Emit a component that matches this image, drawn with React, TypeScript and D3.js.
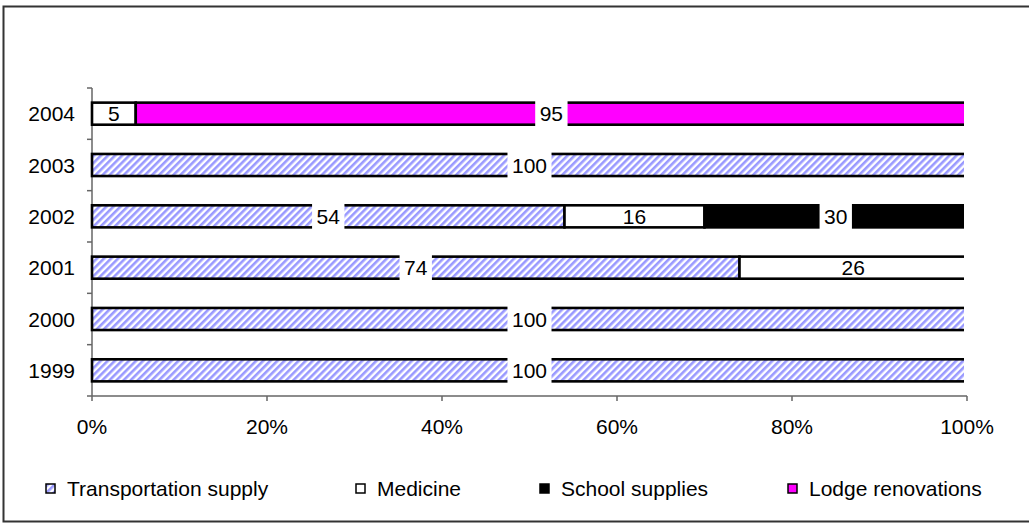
import React from 'react';
import * as d3 from 'd3';

const years = ['1999', '2000', '2001', '2002', '2003', '2004'];
const seriesNames = ['Transportation supply', 'Medicine', 'School supplies', 'Lodge renovations'];
const transport = [100, 100, 74, 54, 100, 0];
const medicine = [0, 0, 26, 16, 0, 5];
const school = [0, 0, 0, 30, 0, 0];
const lodge = [0, 0, 0, 0, 0, 95];
const xTicks = [0, 0.2, 0.4, 0.6, 0.8, 1];

const W = 1029;
const H = 525;
const FONT = '"Liberation Sans", Arial, sans-serif';
const FS = 21;

const fills = ['url(#hatch)', '#ffffff', '#000000', '#ff00ff'];

export default function App() {
  const rows = years.map((y, i) => ({
    year: y,
    s0: transport[i],
    s1: medicine[i],
    s2: school[i],
    s3: lodge[i],
  }));
  const keys = ['s0', 's1', 's2', 's3'];
  const stack = d3.stack<any>().keys(keys);
  const stacked = stack(rows);

  const x = d3.scaleLinear().domain([0, 1]).range([92, 967]);
  const y = d3
    .scaleBand<string>()
    .domain([...years].reverse())
    .range([88, 396])
    .paddingInner(0.57)
    .paddingOuter(0.285);
  const step = y.step();
  const bw = y.bandwidth();
  const clipRight = x(1) - 3;

  const charW = FS * 0.556;

  const legendX = [46, 356, 540, 788];

  return (
    <svg width={W} height={H} style={{ position: 'absolute', left: 0, top: 0 }} fontFamily={FONT}>
      <defs>
        <pattern id="hatch" patternUnits="userSpaceOnUse" width="5" height="5" patternTransform="rotate(45)">
          <rect x="0" y="0" width="5" height="5" fill="#ffffff" />
          <rect x="0" y="0" width="2.6" height="5" fill="#9999ff" />
        </pattern>
        <clipPath id="plotclip">
          <rect x={x(0) - 2} y={80} width={clipRight - x(0) + 2} height={330} />
        </clipPath>
      </defs>
      <rect x={0} y={0} width={W} height={H} fill="#ffffff" />
      <rect x={3.5} y={6.5} width={1040} height={515} fill="none" stroke="#333" strokeWidth={2} />

      {/* y axis */}
      <line x1={x(0)} x2={x(0)} y1={88} y2={396} stroke="#666" strokeWidth={1.5} />
      {d3.range(years.length + 1).map((k) => {
        const ty = 88 + k * step;
        return <line key={`yt${k}`} x1={x(0) - 5} x2={x(0)} y1={ty} y2={ty} stroke="#666" strokeWidth={1.5} />;
      })}

      {/* bars */}
      <g clipPath="url(#plotclip)">
        {stacked.map((layer, li) =>
          layer.map((d, i) => {
            const v = (d[1] - d[0]) / 100;
            if (v <= 0) return null;
            const x0 = x(d[0] / 100);
            const x1 = x(d[1] / 100);
            const yy = y(rows[i].year)!;
            return (
              <rect
                key={`${li}-${i}`}
                x={x0}
                y={yy}
                width={x1 - x0}
                height={bw}
                fill={fills[li]}
                stroke="#000"
                strokeWidth={2.6}
              />
            );
          })
        )}
      </g>

      {/* data labels */}
      {stacked.map((layer, li) =>
        layer.map((d, i) => {
          const val = d[1] - d[0];
          if (val <= 0) return null;
          const cx = x((d[0] + d[1]) / 200);
          const cy = y(rows[i].year)! + bw / 2;
          const txt = String(val);
          const tw = txt.length * charW + 9;
          const boxed = li !== 1;
          return (
            <g key={`l-${li}-${i}`}>
              {boxed && (
                <rect x={cx - tw / 2} y={cy - bw / 2 - 2} width={tw} height={bw + 4} fill="#ffffff" />
              )}
              <text x={cx} y={cy + 7.5} textAnchor="middle" fontSize={FS} fill="#000">
                {txt}
              </text>
            </g>
          );
        })
      )}

      {years.map((yr) => (
        <text key={yr} x={75} y={y(yr)! + bw / 2 + 7.5} textAnchor="end" fontSize={FS} fill="#000">
          {yr}
        </text>
      ))}

      {/* x axis */}
      <line x1={x(0)} x2={x(1)} y1={396} y2={396} stroke="#666" strokeWidth={1.5} />
      {xTicks.map((t) => (
        <g key={`xt${t}`}>
          <line x1={x(t)} x2={x(t)} y1={396} y2={401} stroke="#666" strokeWidth={1.5} />
          <text x={x(t)} y={434} textAnchor="middle" fontSize={FS} fill="#000">
            {d3.format('.0%')(t)}
          </text>
        </g>
      ))}

      {/* legend */}
      {seriesNames.map((name, i) => (
        <g key={name}>
          <rect
            x={legendX[i]}
            y={484}
            width={9}
            height={9}
            fill={fills[i]}
            stroke="#000"
            strokeWidth={1.5}
          />
          <text x={legendX[i] + 21} y={496} fontSize={FS} fill="#000">
            {name}
          </text>
        </g>
      ))}
    </svg>
  );
}
